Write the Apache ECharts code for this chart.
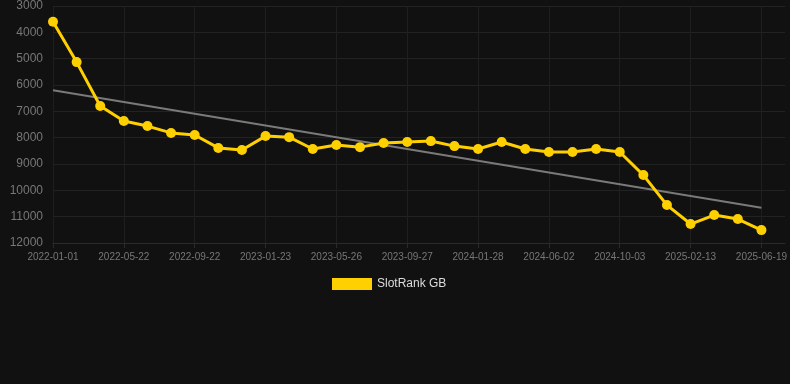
<!DOCTYPE html>
<html>
<head>
<meta charset="utf-8">
<script src="https://cdn.jsdelivr.net/npm/echarts@6/dist/echarts.min.js"></script>
<style>
html,body{margin:0;padding:0;background:#111111;}
#chart{width:790px;height:384px;}
</style>
</head>
<body>
<div id="chart"></div>
<script>
var categories = [
  '2022-01-01','2022-02-16','2022-04-04','2022-05-22','2022-06-22','2022-07-23',
  '2022-09-22','2022-10-24','2022-12-22','2023-01-23','2023-02-24','2023-04-22',
  '2023-05-26','2023-06-27','2023-08-25','2023-09-27','2023-10-29','2023-12-27',
  '2024-01-28','2024-03-01','2024-04-30','2024-06-02','2024-07-04','2024-08-31',
  '2024-10-03','2024-11-05','2025-01-10','2025-02-13','2025-03-18','2025-05-16',
  '2025-06-19',''
];
var rankValues = [
  3600, 5130, 6800, 7370, 7560, 7820, 7900, 8390, 8470, 7940, 7980, 8430,
  8280, 8360, 8200, 8165, 8130, 8320, 8430, 8165, 8430, 8545, 8545, 8430,
  8545, 9420, 10560, 11280, 10940, 11090, 11510, null
];
var trendEnds = [6200, 10660];
var yTicks = { min: 3000, max: 12000, interval: 1000 };

var trendData = categories.map(function (c, i) {
  if (i === 0) return trendEnds[0];
  if (i === 30) return trendEnds[1];
  return null;
});

var chart = echarts.init(document.getElementById('chart'), null, { renderer: 'canvas' });
chart.setOption({
  backgroundColor: '#111111',
  animation: false,
  grid: { left: 53, right: 4, top: 6, bottom: 141, containLabel: false },
  legend: {
    data: [{ name: 'SlotRank GB', icon: 'rect' }],
    top: 273,
    left: 327,
    itemWidth: 40,
    itemHeight: 12,
    itemGap: 6,
    textStyle: { color: '#dddddd', fontSize: 12, fontFamily: 'Arial, Liberation Sans, sans-serif' }
  },
  xAxis: {
    type: 'category',
    data: categories,
    boundaryGap: false,
    axisLine: { show: true, lineStyle: { color: '#2a2a2a' } },
    axisTick: { show: true, interval: 2, length: 5, lineStyle: { color: '#2a2a2a' } },
    axisLabel: { interval: 2, color: '#777777', fontSize: 10, margin: 9, fontFamily: 'Arial, Liberation Sans, sans-serif' },
    splitLine: { show: true, interval: 2, lineStyle: { color: '#1f1f1f' } }
  },
  yAxis: {
    type: 'value',
    inverse: true,
    min: yTicks.min,
    max: yTicks.max,
    interval: yTicks.interval,
    axisLine: { show: false },
    axisTick: { show: false },
    axisLabel: {
      color: '#777777', fontSize: 12, margin: 10,
      fontFamily: 'Arial, Liberation Sans, sans-serif',
      formatter: function (v) { return String(v); }
    },
    splitLine: { show: true, lineStyle: { color: '#222222' } }
  },
  series: [
    {
      name: 'SlotRank GB',
      type: 'line',
      data: rankValues,
      color: '#ffd000',
      lineStyle: { width: 3, color: '#ffd000' },
      itemStyle: { color: '#ffd000' },
      symbol: 'circle',
      symbolSize: 10,
      z: 3
    },
    {
      name: 'trend',
      type: 'line',
      data: trendData,
      connectNulls: true,
      symbol: 'none',
      lineStyle: { width: 2, color: '#7a7a7a' },
      z: 2,
      silent: true
    }
  ]
});
</script>
</body>
</html>
